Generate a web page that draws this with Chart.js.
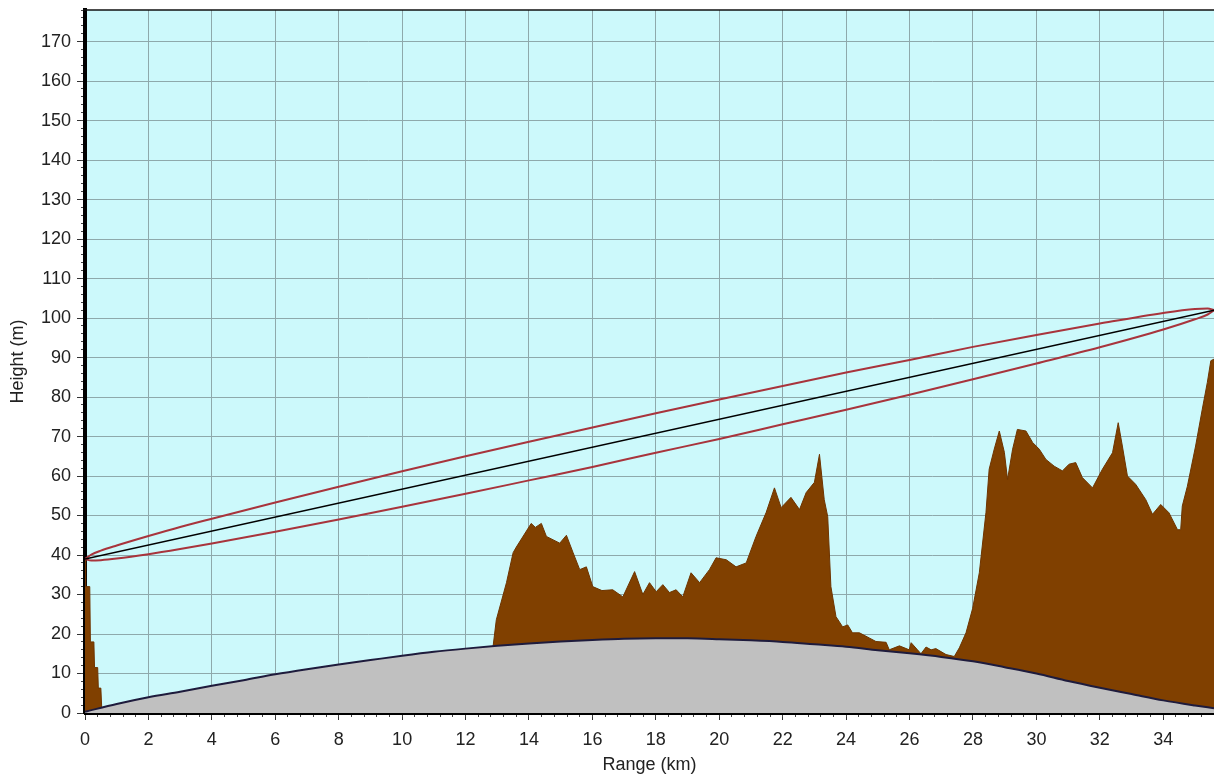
<!DOCTYPE html>
<html>
<head>
<meta charset="utf-8">
<title>Path profile</title>
<script src="https://cdn.jsdelivr.net/npm/chart.js@4.4.0/dist/chart.umd.min.js"></script>
<style>
  body { margin: 0; background: #fff; }
  canvas { display: block; }
</style>
</head>
<body>
<canvas id="profile" width="1214" height="774"></canvas>
<script>
// terrain profile (km / m)
const terrainKm = [0, 0.02, 0.15, 0.17, 0.28, 0.3, 0.4, 0.42, 0.5, 0.53,
    12.84, 12.87, 12.97, 13.29, 13.5, 13.6, 14.07, 14.2, 14.39, 14.55,
    14.97, 15.18, 15.39, 15.6, 15.81, 16.01, 16.3, 16.64, 16.96, 17.33,
    17.59, 17.8, 18.01, 18.22, 18.43, 18.64, 18.85, 19.11, 19.38, 19.69,
    19.9, 20.22, 20.53, 20.85, 21.16, 21.48, 21.74, 21.95, 22.26, 22.53,
    22.74, 23.0, 23.16, 23.31, 23.42, 23.52, 23.68, 23.89, 24.05, 24.2,
    24.42, 24.73, 24.94, 25.26, 25.36, 25.68, 25.99, 26.05, 26.25, 26.36,
    26.52, 26.68, 26.83, 27.15, 27.41, 27.57, 27.78, 27.99, 28.2, 28.41,
    28.51, 28.67, 28.83, 28.99, 29.09, 29.25, 29.4, 29.67, 29.88, 30.09,
    30.3, 30.56, 30.82, 31.03, 31.24, 31.45, 31.77, 32.08, 32.4, 32.58,
    32.71, 32.87, 33.13, 33.45, 33.66, 33.92, 34.18, 34.45, 34.55, 34.6,
    34.76, 35.02, 35.23, 35.39, 35.5, 35.6];
const terrainM = [39, 32, 32, 18, 18, 11.5, 11.5, 6.3, 6.3, 0.8,
    0, 17, 23.6, 33, 40.6, 42, 48, 47, 48, 44.7,
    43, 45, 40.6, 36.3, 37, 32, 31, 31.2, 29.4, 35.8,
    30, 33, 30.7, 32.5, 30.5, 31.2, 29.4, 35.5, 33, 36.3,
    39.3, 38.8, 37, 38, 44.7, 50.8, 57, 52, 54.6, 51.5,
    55.8, 58.4, 65.5, 54, 49.7, 32, 24.4, 21.8, 22.3, 20.3,
    20.3, 19, 18.1, 17.9, 16, 17, 16, 17.8, 16, 15,
    16.7, 16, 16.3, 14.8, 14.3, 16.5, 20.3, 26.5, 35.5, 50.8,
    61.7, 66.8, 71.4, 66, 59.1, 66.8, 71.8, 71.4, 68.5, 66.8,
    64.2, 62.5, 61.3, 63, 63.4, 59.6, 57, 61.7, 65.9, 73.5,
    67.6, 60, 57.9, 54, 50.3, 52.8, 50.7, 46.4, 46.4, 52.4,
    57.4, 67.6, 76.9, 83.7, 89.2, 89.6];

// earth bulge
const bulgeKm = [0, 1, 2, 3, 4, 5, 6, 7, 8, 9, 10, 11, 12, 13, 14, 15, 16, 17, 18,
    19, 20, 21, 22, 23, 24, 25, 26, 27, 28, 29, 30, 31, 32, 33, 34, 35, 35.6];
const bulgeM = [0.3, 2.3, 4, 5.4, 6.9, 8.3, 9.8, 11.1, 12.3, 13.4, 14.5, 15.5, 16.3,
    17, 17.6, 18.1, 18.5, 18.8, 18.9, 18.9, 18.7, 18.4, 18, 17.4, 16.8, 15.9,
    15.1, 14.2, 13.1, 11.6, 10, 8.1, 6.4, 4.8, 3.2, 1.9, 1.2];

// fresnel zone edges
const fresnelKm = [0, 0.2, 0.5, 1, 2, 3, 4, 6, 8, 10, 12, 14, 16, 18, 20, 22, 24,
    26, 28, 30, 32, 34, 35, 35.4, 35.6];
const fresnelUpper = [39, 40.1, 41.1, 42.4, 44.8, 47.1, 49.2, 53.3, 57.3, 61.2, 65,
    68.7, 72.3, 75.9, 79.4, 82.8, 86.2, 89.4, 92.7, 95.7, 98.6, 101.3, 102.3, 102.4, 102];
const fresnelLower = [39, 38.6, 38.7, 39.1, 40.2, 41.5, 42.9, 45.9, 49, 52.2, 55.5,
    58.9, 62.3, 65.9, 69.4, 73.1, 76.8, 80.6, 84.5, 88.5, 92.6, 97.1, 99.7, 100.9, 102];

// line of sight
const losKm = [0, 35.6];
const losM = [39, 102];

const xMax = 35.6;
const yMax = 178;

function toPoints(xs, ys) {
    return xs.map((x, i) => ({ x: x, y: ys[i] }));
}

Chart.defaults.font.family = "'Liberation Sans', Arial, sans-serif";
Chart.defaults.font.size = 18;
Chart.defaults.color = '#222';

// light cyan plot area + thin top frame line
const plotBackground = {
    id: 'plotBackground',
    beforeDraw(chart) {
        const { ctx, chartArea } = chart;
        ctx.save();
        ctx.fillStyle = '#fff';
        ctx.fillRect(0, 0, chart.width, chart.height);
        ctx.fillStyle = '#ccf9fb';
        ctx.fillRect(chartArea.left, chartArea.top, chartArea.right - chartArea.left, chartArea.bottom - chartArea.top);
        ctx.restore();
    },
    afterDraw(chart) {
        const { ctx, chartArea } = chart;
        ctx.save();
        ctx.strokeStyle = '#111';
        ctx.lineWidth = 1.5;
        ctx.beginPath();
        ctx.moveTo(chartArea.left - 2, chartArea.top);
        ctx.lineTo(chartArea.right, chartArea.top);
        ctx.stroke();
        ctx.restore();
    }
};

const ctx = document.getElementById('profile').getContext('2d');
const profile = new Chart(ctx, {
    type: 'line',
    data: {
        datasets: [
            {
                label: 'Line of sight',
                data: toPoints(losKm, losM),
                borderColor: '#000',
                borderWidth: 1.5,
                pointRadius: 0,
                order: 1
            },
            {
                label: 'Fresnel upper',
                data: toPoints(fresnelKm, fresnelUpper),
                borderColor: '#a8343c',
                borderWidth: 2,
                pointRadius: 0,
                cubicInterpolationMode: 'monotone',
                order: 2
            },
            {
                label: 'Fresnel lower',
                data: toPoints(fresnelKm, fresnelLower),
                borderColor: '#a8343c',
                borderWidth: 2,
                pointRadius: 0,
                cubicInterpolationMode: 'monotone',
                order: 2
            },
            {
                label: 'Earth bulge',
                data: toPoints(bulgeKm, bulgeM),
                borderColor: '#1e1b3c',
                borderWidth: 2,
                backgroundColor: '#c0c0c0',
                fill: 'origin',
                pointRadius: 0,
                cubicInterpolationMode: 'monotone',
                order: 3
            },
            {
                label: 'Terrain',
                data: toPoints(terrainKm, terrainM),
                borderColor: '#6e3400',
                borderWidth: 1,
                backgroundColor: '#804000',
                fill: 'origin',
                pointRadius: 0,
                order: 4
            }
        ]
    },
    options: {
        responsive: false,
        animation: false,
        layout: { padding: { top: 10, right: 0, left: 0, bottom: 0 } },
        plugins: {
            legend: { display: false },
            tooltip: { enabled: false }
        },
        scales: {
            x: {
                type: 'linear',
                position: 'bottom',
                min: 0,
                max: xMax,
                weight: 1,
                ticks: { stepSize: 2, includeBounds: false, padding: 9, maxRotation: 0, autoSkip: false },
                grid: { color: '#8ea9ab', tickColor: '#333', tickLength: 7 },
                border: { color: '#000', width: 3 },
                title: { display: true, text: 'Range (km)', font: { lineHeight: 1.0 }, padding: { top: 0, bottom: 0 } },
                afterFit(scale) { scale.height = 61; }
            },
            xMinor: {
                type: 'linear',
                position: 'bottom',
                min: 0,
                max: xMax,
                weight: 0,
                ticks: { display: false, stepSize: 0.4, includeBounds: false },
                grid: { drawOnChartArea: false, tickLength: 4, tickColor: '#444' },
                border: { display: false },
                afterFit(scale) { scale.height = 0; }
            },
            y: {
                position: 'left',
                min: 0,
                max: yMax,
                weight: 1,
                ticks: { stepSize: 10, includeBounds: false, padding: 6, autoSkip: false },
                grid: { color: '#8ea9ab', tickColor: '#333', tickLength: 8 },
                border: { color: '#000', width: 4 },
                title: { display: true, text: 'Height (m)', padding: { top: 7, bottom: 0 } },
                afterFit(scale) {
                    // labels never sit at the very top, so no extra room is needed there
                    scale.width = 85;
                    scale.paddingTop = 0;
                }
            },
            yMinor: {
                position: 'left',
                min: 0,
                max: yMax,
                weight: 0,
                ticks: { display: false, stepSize: 2, includeBounds: false },
                grid: { drawOnChartArea: false, tickLength: 4, tickColor: '#444' },
                border: { display: false },
                afterFit(scale) { scale.width = 0; }
            }
        }
    },
    plugins: [plotBackground]
});
</script>
</body>
</html>
